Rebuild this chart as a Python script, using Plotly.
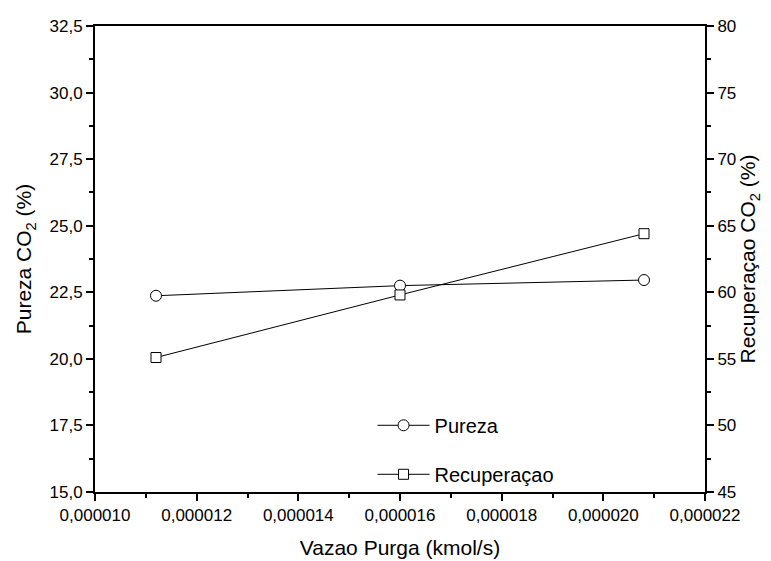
import plotly.graph_objects as go

# Purge flow rate (kmol/s)
vazao = [0.0000112, 0.0000160, 0.0000208]
# CO2 purity (%) - left axis
pureza = [22.37, 22.75, 22.96]
# CO2 recovery (%) - right axis
recuperacao = [55.1, 59.8, 64.4]

left_ticks = [15.0, 17.5, 20.0, 22.5, 25.0, 27.5, 30.0, 32.5]
right_ticks = [45, 50, 55, 60, 65, 70, 75, 80]
x_ticks = [0.000010, 0.000012, 0.000014, 0.000016, 0.000018, 0.000020, 0.000022]

font_family = "Liberation Sans, Arial, sans-serif"

fig = go.Figure()

fig.add_trace(go.Scatter(
    x=vazao, y=pureza, name="Pureza", mode="lines+markers",
    legendgroup="a",
    line=dict(color="black", width=1),
    marker=dict(symbol="circle", size=11, color="white",
                line=dict(color="black", width=1)),
    yaxis="y",
))
fig.add_trace(go.Scatter(
    x=vazao, y=recuperacao, name="Recuperaçao", mode="lines+markers",
    legendgroup="b",
    line=dict(color="black", width=1),
    marker=dict(symbol="square", size=10, color="white",
                line=dict(color="black", width=1)),
    yaxis="y2",
))

axis_common = dict(
    showline=True, linecolor="black", linewidth=2,
    ticks="outside", ticklen=7, tickwidth=2, tickcolor="black",
    showgrid=False, zeroline=False, automargin=False,
    tickfont=dict(family=font_family, size=17, color="black"),
)
title_font = dict(family=font_family, size=21, color="black")

fig.update_layout(
    width=771, height=561,
    margin=dict(l=95, r=66, t=26, b=69),
    paper_bgcolor="white", plot_bgcolor="white",
    separators=",.",
    font=dict(family=font_family, color="black"),
    xaxis=dict(
        **axis_common,
        range=[0.000010, 0.000022],
        tickvals=x_ticks, tickformat=".6f",
        minor=dict(dtick=0.000001, ticks="outside", ticklen=4,
                   tickwidth=2, tickcolor="black", showgrid=False),
        mirror=True,
        title=dict(text="Vazao Purga (kmol/s)", font=title_font, standoff=16),
    ),
    yaxis=dict(
        **axis_common,
        range=[15, 32.5],
        tickvals=left_ticks, tickformat=".1f",
        minor=dict(dtick=1.25, ticks="outside", ticklen=4,
                   tickwidth=2, tickcolor="black", showgrid=False),
        title=dict(text="Pureza CO<sub>2</sub> (%)", font=title_font, standoff=12),
    ),
    yaxis2=dict(
        **axis_common,
        range=[45, 80],
        tickvals=right_ticks, tickformat="d",
        minor=dict(dtick=2.5, ticks="outside", ticklen=4,
                   tickwidth=2, tickcolor="black", showgrid=False),
        overlaying="y", side="right",
        title=dict(text="Recuperaçao CO<sub>2</sub> (%)", font=title_font, standoff=4),
    ),
    legend=dict(
        x=0.455, y=0.185, xanchor="left", yanchor="top",
        bgcolor="rgba(0,0,0,0)", borderwidth=0,
        font=dict(family=font_family, size=20, color="black"),
        itemwidth=52,
        tracegroupgap=20,
    ),
    showlegend=True,
)

fig.write_html("out.html")
